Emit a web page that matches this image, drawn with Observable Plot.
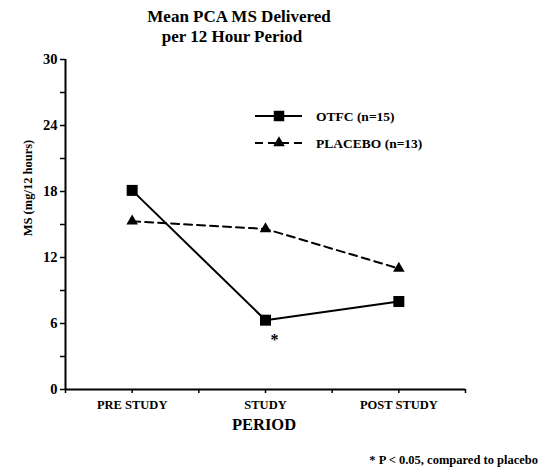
<!DOCTYPE html>
<html>
<head>
<meta charset="utf-8">
<script src="https://cdn.jsdelivr.net/npm/d3@7"></script>
<script src="https://cdn.jsdelivr.net/npm/@observablehq/plot@0.6"></script>
<style>
  html, body { margin: 0; padding: 0; background: #fff; }
  #chart { width: 545px; height: 473px; }
  #chart g[aria-label="y-axis tick label"] { font-size: 14.5px; font-weight: bold; }
  #chart g[aria-label="x-axis tick label"] { font-size: 12.5px; font-weight: bold; }
</style>
</head>
<body>
<div id="chart"></div>
<script>
// ---- data ----
const periods = ["PRE STUDY", "STUDY", "POST STUDY"];
const otfc = [18.1, 6.3, 8.0];
const placebo = [15.3, 14.6, 11.0];
const significance = ["", "*", ""];
const seriesNames = ["OTFC (n=15)", "PLACEBO (n=13)"];
const yTickValues = [0, 3, 6, 9, 12, 15, 18, 21, 24, 27, 30];
const yLabelled = [0, 6, 12, 18, 24, 30];
const titleLines = ["Mean PCA MS Delivered", "per 12 Hour Period"];
const yAxisLabel = "MS (mg/12 hours)";
const xAxisLabel = "PERIOD";
const footnote = "* P < 0.05, compared to placebo";

// positions: categories sit at odd positions of a 0..6 axis
const pos = periods.map((_, i) => 2 * i + 1);
const xTickValues = d3.range(0, 7);
const rows = periods.flatMap((p, i) => [
  {x: pos[i], y: otfc[i], s: seriesNames[0], sig: significance[i]},
  {x: pos[i], y: placebo[i], s: seriesNames[1], sig: ""}
]);
const otfcRows = rows.filter(d => d.s === seriesNames[0]);
const placeboRows = rows.filter(d => d.s === seriesNames[1]);

const font = "'Liberation Serif', 'Times New Roman', serif";

// annotations: titles, axis labels, legend, footnote (layout in pixels)
function annotations(index, scales, values, dims) {
  const g = d3.create("svg:g")
    .attr("font-family", font).attr("font-weight", "bold")
    .attr("fill", "#000").attr("text-anchor", "start");
  const L = dims.marginLeft, T = dims.marginTop;
  const W = dims.width;

  // title
  g.append("text").attr("x", 239).attr("y", 16).attr("dy", "0.35em")
    .attr("text-anchor", "middle").attr("font-size", 17).text(titleLines[0]);
  g.append("text").attr("x", 232).attr("y", 36).attr("dy", "0.35em")
    .attr("text-anchor", "middle").attr("font-size", 17).text(titleLines[1]);

  // y label
  g.append("text").attr("transform", `translate(${L - 37},${188}) rotate(-90)`)
    .attr("dy", "0.35em").attr("text-anchor", "middle").attr("font-size", 12.5)
    .text(yAxisLabel);

  // x label
  g.append("text").attr("x", 264).attr("y", 424).attr("dy", "0.35em")
    .attr("text-anchor", "middle").attr("font-size", 16.5).text(xAxisLabel);

  // footnote
  g.append("text").attr("x", W - 7).attr("y", 460).attr("dy", "0.35em")
    .attr("text-anchor", "end").attr("font-size", 12.5).text(footnote);

  // legend
  const x0 = L + 190, y0 = T + 57, gap = 27;
  const items = [
    {name: seriesNames[0], dash: null, sym: d3.symbolSquare, size: 110},
    {name: seriesNames[1], dash: "8,5", sym: d3.symbolTriangle, size: 58}
  ];
  items.forEach((it, i) => {
    const y = y0 + i * gap;
    g.append("line").attr("x1", x0).attr("x2", x0 + 47).attr("y1", y).attr("y2", y)
      .attr("stroke", "#000").attr("stroke-width", 2)
      .attr("stroke-dasharray", it.dash);
    g.append("path").attr("d", d3.symbol(it.sym, it.size)())
      .attr("transform", `translate(${x0 + 24},${y})`).attr("fill", "#000");
    g.append("text").attr("x", x0 + 61).attr("y", y).attr("dy", "0.35em")
      .attr("font-size", 13.5).text(it.name);
  });
  return g.node();
}

const chart = Plot.plot({
  width: 545,
  height: 473,
  marginLeft: 65,
  marginRight: 80,
  marginTop: 59,
  marginBottom: 84,
  style: {fontFamily: font, background: "#fff", color: "#000"},
  x: {domain: [0, 6]},
  y: {domain: [0, 30]},
  marks: [
    Plot.axisY({
      ticks: yTickValues, tickSize: 5, tickPadding: 3,
      tickFormat: d => yLabelled.includes(d) ? d : "",
      fontSize: 14.5, fontWeight: "bold", label: null, strokeWidth: 1.5
    }),
    Plot.axisX({
      ticks: xTickValues, tickSize: 4, tickPadding: 7,
      tickFormat: d => { const i = pos.indexOf(d); return i >= 0 ? periods[i] : ""; },
      fontSize: 12.5, fontWeight: "bold", label: null, strokeWidth: 1.5
    }),
    Plot.ruleX([0], {stroke: "#000", strokeWidth: 2}),
    Plot.ruleY([0], {stroke: "#000", strokeWidth: 2}),
    Plot.line(placeboRows, {x: "x", y: "y", stroke: "#000", strokeWidth: 2, strokeDasharray: "8,5"}),
    Plot.line(otfcRows, {x: "x", y: "y", stroke: "#000", strokeWidth: 2}),
    Plot.dot(otfcRows, {x: "x", y: "y", symbol: "square", r: 6.2, fill: "#000", stroke: null}),
    Plot.dot(placeboRows, {x: "x", y: "y", symbol: "triangle", r: 4.3, fill: "#000", stroke: null}),
    Plot.text(otfcRows, {x: "x", y: "y", text: "sig", dx: 9, dy: 20, fontSize: 16, fontWeight: "bold"}),
    annotations
  ]
});
document.getElementById("chart").appendChild(chart);
</script>
</body>
</html>
